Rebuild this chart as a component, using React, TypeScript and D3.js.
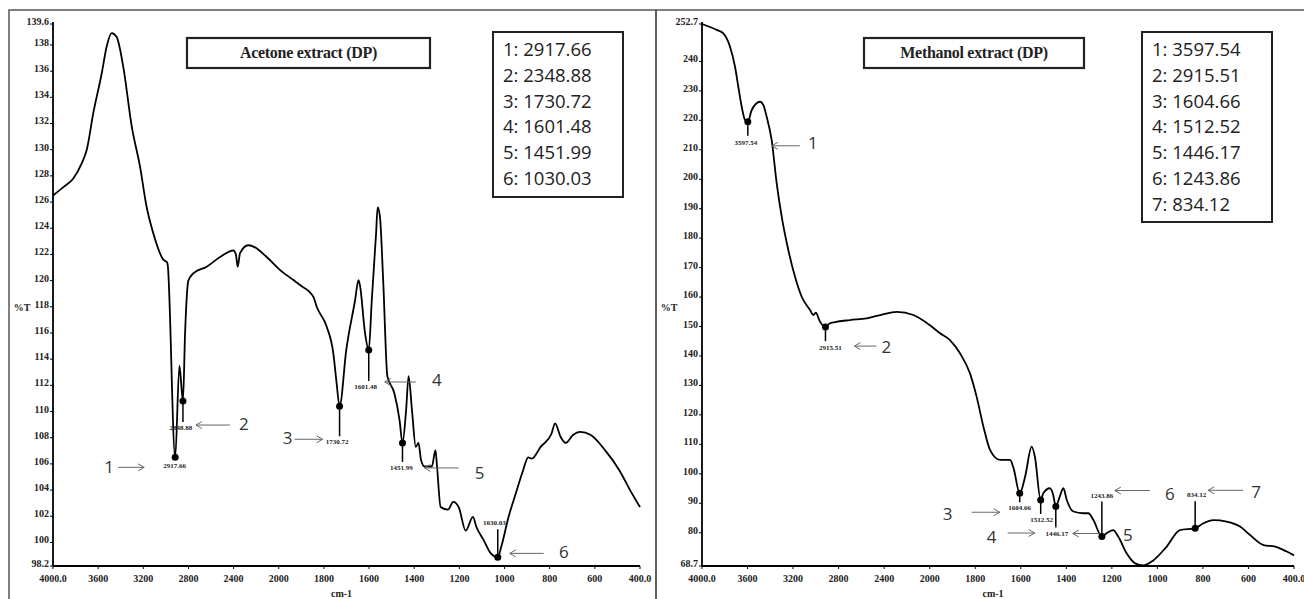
import * as d3 from 'd3';

const wnTicks = [4000, 3600, 3200, 2800, 2400, 2000, 1800, 1600, 1400, 1200, 1000, 800, 600, 400];
const wnTickLabels = ['4000.0', '3600', '3200', '2800', '2400', '2000', '1800', '1600', '1400', '1200', '1000', '800', '600', '400.0'];

// Acetone extract (DP)
const acetoneWn = [4000, 3900, 3820, 3746, 3701, 3643, 3569, 3524, 3480, 3436, 3377, 3303, 3229, 3170, 3111, 3023, 2990,
  2984, 2917.66, 2880, 2848.88, 2830, 2801, 2757, 2638, 2520, 2402, 2380, 2364, 2343, 2270, 2225, 2107, 1994, 1935, 1906,
  1847, 1832, 1788, 1758, 1744, 1730.72, 1701, 1662, 1647, 1640, 1618, 1601.48, 1588, 1569, 1562, 1552, 1537, 1519, 1488,
  1465, 1451.99, 1436, 1425, 1410, 1393, 1381, 1370, 1354, 1322, 1306, 1299, 1283, 1251, 1227, 1203, 1172, 1140, 1125,
  1093, 1061, 1030.03, 1014, 982, 950, 918, 895, 879, 840, 792, 776, 752, 729, 697, 665, 618, 555, 491, 444, 400];
const acetoneT = [126.5, 127.2, 127.8, 128.96, 130.0, 132.8, 135.8, 137.9, 138.9, 138.6, 136.3, 131.8, 128.7, 125.6, 123.6, 121.6, 121.4,
  121.2, 106.5, 113.5, 110.8, 116.0, 120.0, 120.55, 121.06, 121.8, 122.3, 122.0, 121.06, 122.1, 122.7, 122.6, 121.8, 120.8, 120.04, 119.66,
  118.77, 118.0, 116.5, 114.4, 112.2, 110.4, 114.7, 118.5, 120.04, 119.6, 116.0, 114.7, 118.5, 123.6, 125.6, 124.9, 119.8, 112.7, 111.4,
  109.35, 107.6, 110.1, 112.7, 110.1, 107.3, 107.6, 106.3, 105.8, 105.8, 107.05, 105.8, 102.7, 102.5, 103.1, 102.7, 100.9, 101.96, 101.2,
  100.2, 99.16, 98.86, 99.7, 101.96, 103.75, 105.5, 106.5, 106.4, 107.3, 108.3, 109.1, 108.07, 107.6, 108.2, 108.45, 108.2, 107.05, 105.5, 104.0, 102.7];
const acetonePeakWn = [2917.66, 2848.88, 1730.72, 1601.48, 1451.99, 1030.03];
const acetonePeakT = [106.5, 110.8, 110.4, 114.7, 107.6, 98.86];
const acetonePeakText = ['2917.66', '2848.88', '1730.72', '1601.48', '1451.99', '1030.03'];
const acetoneLegend = ['1: 2917.66', '2: 2348.88', '3: 1730.72', '4: 1601.48', '5: 1451.99', '6: 1030.03'];
const acetoneYTicks = [139.6, 138, 136, 134, 132, 130, 128, 126, 124, 122, 120, 118, 116, 114, 112, 110, 108, 106, 104, 102, 100, 98.2];

// Methanol extract (DP)
const methanolWn = [4000, 3871, 3813, 3754, 3710, 3681, 3651, 3622, 3597.54, 3563, 3490, 3461, 3432, 3388, 3344, 3300, 3242, 3183,
  3124, 3051, 3022, 3000, 2968, 2915.51, 2880, 2832, 2700, 2553, 2435, 2289, 2143, 2000, 1956, 1911, 1867, 1823, 1794, 1764,
  1735, 1691, 1647, 1632, 1604.66, 1581, 1552, 1538, 1512.52, 1501, 1472, 1458, 1446.17, 1430, 1413, 1398, 1369, 1325, 1303,
  1281, 1243.86, 1223, 1194, 1172, 1135, 1098, 1062, 1018, 959, 901, 834.12, 798, 754, 696, 637, 593, 534, 483, 432, 400];
const methanolT = [252.7, 250.7, 249.5, 245.0, 238.2, 231.4, 224.6, 220.1, 219.5, 223.5, 226.3, 225.2, 221.2, 213.3, 198.6, 187.3, 176.0, 166.9,
  160.1, 155.6, 153.9, 154.7, 152.0, 149.8, 151.0, 151.5, 152.2, 152.8, 153.9, 155.0, 153.9, 150.5, 147.8, 145.4, 140.9, 134.1, 126.2, 116.0,
  108.1, 104.7, 104.7, 102.0, 93.4, 99.0, 109.2, 105.8, 91.1, 93.4, 95.1, 93.0, 88.9, 92.0, 95.1, 91.1, 87.2, 86.6, 86.6,
  84.3, 78.7, 79.8, 80.9, 78.7, 73.0, 69.6, 68.9, 70.6, 75.3, 80.9, 81.5, 83.2, 84.3, 83.8, 82.1, 79.2, 75.8, 75.3, 73.6, 72.3];
const methanolPeakWn = [3597.54, 2915.51, 1604.66, 1512.52, 1446.17, 1243.86, 834.12];
const methanolPeakT = [219.5, 149.8, 93.4, 91.1, 88.9, 78.7, 81.5];
const methanolPeakText = ['3597.54', '2915.51', '1604.66', '1512.52', '1446.17', '1243.86', '834.12'];
const methanolLegend = ['1: 3597.54', '2: 2915.51', '3: 1604.66', '4: 1512.52', '5: 1446.17', '6: 1243.86', '7: 834.12'];
const methanolYTicks = [252.7, 240, 230, 220, 210, 200, 190, 180, 170, 160, 150, 140, 130, 120, 110, 100, 90, 80, 68.7];

// annotation layout, offsets from each peak marker
type Note = { lx: number; ly: number; l0: number; l1: number; a0: number; a1: number; ay: number; nx: number; ny: number };
const acetoneNotes: Note[] = [
  { lx: -0.6, ly: 9, l0: 0, l1: 0, a0: -57, a1: -31, ay: 10, nx: -66, ny: 9 },
  { lx: -2, ly: 27, l0: 3, l1: 21, a0: 47, a1: 13, ay: 24, nx: 61, ny: 22 },
  { lx: -2.5, ly: 36, l0: 3, l1: 30, a0: -45, a1: -17, ay: 33, nx: -52, ny: 31 },
  { lx: -3, ly: 37, l0: 3, l1: 31, a0: 47, a1: 16, ay: 32, nx: 68, ny: 30 },
  { lx: -1, ly: 25, l0: 3, l1: 19, a0: 56, a1: 22, ay: 25, nx: 77, ny: 30 },
  { lx: -3.5, ly: -34, l0: -28, l1: -3, a0: 46, a1: 12, ay: -4, nx: 66, ny: -6 },
];
const methanolNotes: Note[] = [
  { lx: -2, ly: 21, l0: 3, l1: 14, a0: 52, a1: 24, ay: 24, nx: 65, ny: 21 },
  { lx: 5, ly: 21, l0: 3, l1: 14, a0: 51, a1: 29, ay: 19, nx: 61, ny: 19 },
  { lx: 0, ly: 15, l0: 3, l1: 9, a0: -48, a1: -20, ay: 19, nx: -72, ny: 20 },
  { lx: 1, ly: 20, l0: 3, l1: 14, a0: -33, a1: -6, ay: 33, nx: -49, ny: 36 },
  { lx: 1, ly: 28, l0: 3, l1: 21, a0: 46, a1: 17, ay: 27, nx: 72, ny: 28 },
  { lx: 0, ly: -41, l0: -35, l1: -3, a0: 48, a1: 13, ay: -46, nx: 68, ny: -43 },
  { lx: 1.5, ly: -33, l0: -27, l1: -3, a0: 48, a1: 13, ay: -38, nx: 61, ny: -37 },
];

interface PanelProps {
  frameX: number; frameW: number; x0: number; x1: number;
  yDomain: [number, number]; yTicks: number[];
  wn: number[]; t: number[];
  peakWn: number[]; peakT: number[]; peakText: string[]; notes: Note[];
  title: string; titleBox: [number, number, number, number];
  legend: string[]; legendBox: [number, number, number, number];
  pctX: number;
}

const serif = '"Liberation Serif", "Times New Roman", serif';
const sans = '"Open Sans", "Noto Sans", sans-serif';
const top = 24, bottom = 566;

function Panel(p: PanelProps) {
  const x = d3.scaleLinear().domain([4000, 2000, 400]).range([p.x0, p.x0 + (p.x1 - p.x0) * 5 / 13, p.x1]);
  const y = d3.scaleLinear().domain(p.yDomain).range([bottom, top]);
  const pts = p.wn.map((w, i) => [w, p.t[i]] as [number, number]);
  const line = d3.line<[number, number]>().x(d => x(d[0])).y(d => y(d[1])).curve(d3.curveMonotoneX);
  const [tx, ty, tw, th] = p.titleBox;
  const [lx, ly, lw, lh] = p.legendBox;
  return (
    <g>
      <rect x={p.frameX} y={10} width={p.frameW} height={600} fill="none" stroke="#555" strokeWidth={1.5} />
      {/* axes */}
      <line x1={p.x0} x2={p.x0} y1={top - 2} y2={bottom} stroke="#000" strokeWidth={1.8} />
      <line x1={p.x0} x2={p.x1} y1={bottom} y2={bottom} stroke="#000" strokeWidth={1.8} />
      {p.yTicks.map(v => (
        <g key={v}>
          <line x1={p.x0 - 3} x2={p.x0} y1={y(v)} y2={y(v)} stroke="#000" strokeWidth={1} />
          <text x={p.x0 - 4} y={y(v) + 1} textAnchor="end" fontFamily={serif} fontWeight="bold" fontSize={10} fill="#222">{String(v)}</text>
        </g>
      ))}
      {wnTicks.map((v, i) => (
        <g key={v}>
          <line x1={x(v)} x2={x(v)} y1={bottom} y2={bottom + 3} stroke="#000" strokeWidth={1} />
          <text x={x(v)} y={582} textAnchor="middle" fontFamily={serif} fontWeight="bold" fontSize={10} fill="#222">{wnTickLabels[i]}</text>
        </g>
      ))}
      <text x={(p.x0 + p.x1) / 2 - 5} y={597} textAnchor="middle" fontFamily={serif} fontWeight="bold" fontSize={10} fill="#222">cm-1</text>
      <text x={p.pctX} y={y(p.yDomain[0] + (p.yDomain[1] - p.yDomain[0]) * 0.47)} textAnchor="middle" fontFamily={serif} fontWeight="bold" fontSize={10} fill="#222">%T</text>
      {/* spectrum */}
      <path d={line(pts) ?? ''} fill="none" stroke="#000" strokeWidth={1.8} strokeLinejoin="round" />
      {/* peak picks */}
      {p.peakWn.map((w, i) => {
        const mx = x(w), my = y(p.peakT[i]);
        const n = p.notes[i];
        const dir = Math.sign(n.a0 - n.a1);
        const hx = mx + n.a1, hy = my + n.ay;
        return (
          <g key={w}>
            {n.l0 !== n.l1 && <line x1={mx} x2={mx} y1={my + n.l0} y2={my + n.l1} stroke="#000" strokeWidth={1.5} />}
            <circle cx={mx} cy={my} r={3.5} fill="#000" />
            <text x={mx + n.lx} y={my + n.ly} textAnchor="middle" dominantBaseline="central" fontFamily={serif} fontWeight="bold" fontSize={7} fill="#222">{p.peakText[i]}</text>
            <line x1={mx + n.a0} x2={hx} y1={hy} y2={hy} stroke="#666" strokeWidth={1} />
            <path d={`M${hx + dir * 6},${hy - 3.5} L${hx},${hy} L${hx + dir * 6},${hy + 3.5}`} fill="none" stroke="#666" strokeWidth={1} />
            <text x={mx + n.nx} y={my + n.ny} textAnchor="middle" dominantBaseline="central" fontFamily={sans} fontSize={17} fill="#333">{String(i + 1)}</text>
          </g>
        );
      })}
      {/* title and peak table */}
      <rect x={tx} y={ty} width={tw} height={th} fill="#fff" stroke="#222" strokeWidth={2.2} />
      <text x={tx + tw / 2} y={ty + th / 2 + 5} textAnchor="middle" fontFamily={serif} fontWeight="bold" fontSize={16} letterSpacing={-0.3} fill="#222">{p.title}</text>
      <rect x={lx} y={ly} width={lw} height={lh} fill="#fff" stroke="#222" strokeWidth={2} />
      {p.legend.map((s, i) => (
        <text key={s} x={lx + 10} y={ly + 24 + i * 25.8} fontFamily={sans} fontSize={18.5} fill="#222">{s}</text>
      ))}
    </g>
  );
}

export default function App() {
  return (
    <svg width={1304} height={599} style={{ position: 'absolute', left: 0, top: 0, background: '#fff' }}>
      <rect width={1304} height={599} fill="#fff" />
      <Panel frameX={9} frameW={647} x0={53} x1={640} yDomain={[98.2, 139.6]} yTicks={acetoneYTicks}
        wn={acetoneWn} t={acetoneT} peakWn={acetonePeakWn} peakT={acetonePeakT} peakText={acetonePeakText}
        notes={acetoneNotes} title="Acetone extract (DP)" titleBox={[187, 38, 243, 30]}
        legend={acetoneLegend} legendBox={[493, 32, 130, 165]} pctX={22} />
      <Panel frameX={656} frameW={660} x0={702} x1={1294} yDomain={[68.7, 252.7]} yTicks={methanolYTicks}
        wn={methanolWn} t={methanolT} peakWn={methanolPeakWn} peakT={methanolPeakT} peakText={methanolPeakText}
        notes={methanolNotes} title="Methanol extract (DP)" titleBox={[864, 38, 220, 30]}
        legend={methanolLegend} legendBox={[1142, 32, 130, 190]} pctX={669} />
    </svg>
  );
}
